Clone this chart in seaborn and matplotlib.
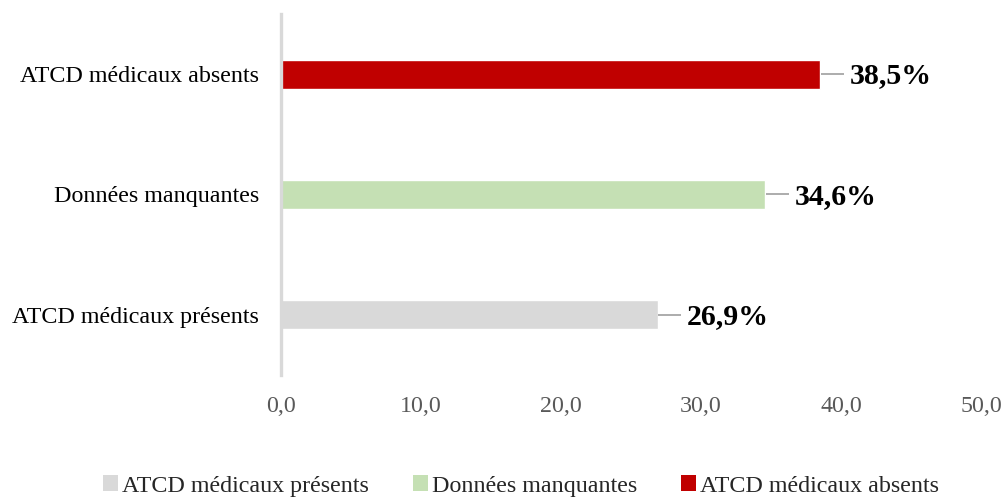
import matplotlib
matplotlib.use("Agg")
import matplotlib.pyplot as plt
from matplotlib.patches import Patch
import pandas as pd
import seaborn as sns

# Data (top to bottom on the chart)
categories = ["ATCD médicaux absents", "Données manquantes", "ATCD médicaux présents"]
values = [38.5, 34.6, 26.9]
value_labels = ["38,5%", "34,6%", "26,9%"]
colors = ["#C00000", "#C5E0B4", "#D9D9D9"]
x_ticks = [0, 10, 20, 30, 40, 50]
x_tick_labels = ["0,0", "10,0", "20,0", "30,0", "40,0", "50,0"]
legend_order = ["ATCD médicaux présents", "Données manquantes", "ATCD médicaux absents"]

sns.set_style("white")
plt.rcParams["font.family"] = ["Liberation Serif", "DejaVu Serif"]

df = pd.DataFrame({"category": categories, "value": values})
palette = dict(zip(categories, colors))

W, H = 1003, 497
fig = plt.figure(figsize=(W / 100, H / 100), dpi=100)
ax = fig.add_axes([281 / W, 1 - 375 / H, 700 / W, 361 / H])

sns.barplot(data=df, x="value", y="category", hue="category", order=categories,
            hue_order=categories, palette=palette, width=0.24, saturation=1,
            legend=False, ax=ax)

ax.set_xlim(0, 50)
ax.set_ylim(2.5, -0.5)
ax.set_xticks(x_ticks)
ax.set_xticklabels(x_tick_labels)
ax.set_xlabel("")
ax.set_ylabel("")
ax.tick_params(axis="x", length=0, pad=15, labelsize=17.3, labelcolor="#595959")
ax.tick_params(axis="y", length=0, pad=16, labelsize=17.3, labelcolor="#000000")

for side in ["top", "right", "bottom"]:
    ax.spines[side].set_visible(False)
ax.spines["left"].set_color("#D9D9D9")
ax.spines["left"].set_linewidth(2.4)
ax.grid(False)

# Value labels with short leader lines
for i, (v, lab) in enumerate(zip(values, value_labels)):
    ax.plot([v + 0.05, v + 1.7], [i, i], color="#A6A6A6", lw=1.3,
            solid_capstyle="butt", clip_on=False)
    ax.text(v + 2.1, i + 0.015, lab, ha="left", va="center", fontsize=21.5,
            fontweight="bold", color="#000000", clip_on=False)

handles = [Patch(facecolor=palette[c], edgecolor="none", label=c) for c in legend_order]
fig.legend(handles=handles, loc="center", bbox_to_anchor=(521 / W, 1 - 486 / H),
           ncol=3, frameon=False, fontsize=17.3, handlelength=0.62, handleheight=0.62,
           handletextpad=0.15, columnspacing=1.85, borderaxespad=0, borderpad=0)

fig.savefig("out.png", dpi=100)
